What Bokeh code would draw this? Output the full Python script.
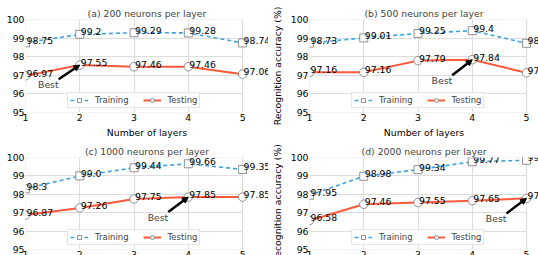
from bokeh.plotting import figure
from bokeh.layouts import column, row
from bokeh.models import (Label, Arrow, NormalHead, Legend, LegendItem, Range1d,
                          BoxAnnotation)
from bokeh.embed import file_html
from bokeh.resources import INLINE

layers = [1, 2, 3, 4, 5]
titles = ["(a) 200 neurons per layer", "(b) 500 neurons per layer",
          "(c) 1000 neurons per layer", "(d) 2000 neurons per layer"]
train_200 = [98.75, 99.2, 99.29, 99.28, 98.74]
test_200 = [96.97, 97.55, 97.46, 97.46, 97.06]
train_500 = [98.73, 99.01, 99.25, 99.4, 98.72]
test_500 = [97.16, 97.16, 97.79, 97.84, 97.13]
train_1000 = [98.3, 99.0, 99.44, 99.66, 99.35]
test_1000 = [96.87, 97.26, 97.75, 97.85, 97.85]
train_2000 = [97.95, 98.98, 99.34, 99.77, 99.85]
test_2000 = [96.58, 97.46, 97.55, 97.65, 97.78]
best_layer = [2, 4, 4, 5]
best_text_x = [1.42, 3.44, 3.44, 4.44]
best_text_y = [96.51, 96.72, 96.76, 96.68]
y_ticks = [95, 96, 97, 98, 99, 100]
y_min, y_max = 95, 100

FONT = "DejaVu Sans"
FS = "9.3px"
LFS = "8.5px"
BLUE = "#3ba3e0"
RED = "#ff5a3c"
FRAME_W = 218       # visible plotting box width (px)
BORDER_L = 40


def make_panel(title, train, test, best, tx, ty, left_col, top_row):
    width = 284 if left_col else 270
    ext_w = width - BORDER_L
    x0, x1 = layers[0], layers[-1]
    # frame is extended to the canvas edge so that value labels may overflow the box
    x_end = x0 + (x1 - x0) * ext_w / FRAME_W
    p = figure(width=width, height=140 if top_row else 137,
               x_range=Range1d(x0, x_end), y_range=Range1d(y_min, y_max),
               output_backend="svg", toolbar_location=None, title=title,
               min_border_left=BORDER_L, min_border_right=0,
               min_border_top=19 if top_row else 17, min_border_bottom=28)
    p.title.text_font = FONT
    p.title.text_font_size = FS
    p.title.text_font_style = "normal"
    p.title.align = "center"
    p.title.offset = -(ext_w - FRAME_W) / 2
    p.title.standoff = 1
    p.outline_line_color = None
    p.grid.grid_line_color = "#dddddd"
    for ax in (p.xaxis, p.yaxis):
        ax.axis_line_color = None
        ax.major_tick_out = 0
        ax.major_tick_in = 0
        ax.minor_tick_out = 0
        ax.minor_tick_in = 0
        ax.major_label_text_font = FONT
        ax.major_label_text_font_size = FS
        ax.major_label_text_color = "black"
        ax.axis_label_text_font = FONT
        ax.axis_label_text_font_size = FS
        ax.axis_label_text_font_style = "normal"
        ax.axis_label_text_color = "black"
        ax.major_label_standoff = 1
    p.xaxis.axis_label_standoff = 3
    p.yaxis.axis_label_standoff = 5
    p.xaxis.ticker = layers
    p.xaxis.bounds = (x0, x1)
    p.yaxis.ticker = y_ticks
    p.xgrid.ticker = layers
    p.ygrid.ticker = y_ticks
    p.xaxis.axis_label = "Number of layers"
    p.yaxis.axis_label = "Recognition accuracy (%)"

    # blank out the grid beyond the last layer, then draw the box border
    p.add_layout(BoxAnnotation(left=x1, fill_color="white", fill_alpha=1,
                               line_color=None, level="underlay"))
    p.add_layout(BoxAnnotation(left=x0, right=x1, bottom=y_min, top=y_max,
                               fill_color=None, line_color="#bdbdbd",
                               line_width=1.2, level="underlay"))

    tr_line = p.line(layers, train, line_color=BLUE, line_width=1.6, line_dash="4 3")
    tr_pts = p.scatter(layers, train, marker="square", size=8, fill_color="white",
                       line_color="#777777", line_width=0.8)
    te_line = p.line(layers, test, line_color=RED, line_width=2)
    te_pts = p.scatter(layers, test, marker="circle", size=8.5, fill_color="white",
                       line_color="#777777", line_width=0.8)

    for vals in (train, test):
        for xv, yv in zip(layers, vals):
            p.add_layout(Label(x=xv, y=yv, text=str(yv), x_offset=1, y_offset=2.5,
                               text_baseline="middle", text_font=FONT,
                               text_font_size=FS, text_color="black"))

    p.add_layout(Arrow(end=NormalHead(size=6, fill_color="black", line_color="black"),
                       x_start=tx + 0.19, y_start=ty + 0.28,
                       x_end=best, y_end=test[best - 1],
                       line_width=2.5, line_color="black"))
    p.add_layout(Label(x=tx, y=ty, text="Best", text_align="center",
                       text_baseline="middle", text_font=FONT, text_font_size=FS))

    legend = Legend(items=[LegendItem(label="Training", renderers=[tr_line, tr_pts]),
                           LegendItem(label="Testing", renderers=[te_line, te_pts])],
                    orientation="horizontal", location=(42, 4))
    legend.label_text_font = FONT
    legend.label_text_font_size = LFS
    legend.border_line_color = "#cccccc"
    legend.background_fill_alpha = 0.85
    legend.padding = 2
    legend.spacing = 14
    legend.margin = 0
    legend.glyph_width = 18
    legend.glyph_height = 10
    legend.label_height = 10
    legend.label_standoff = 7
    p.add_layout(legend)
    return p


series = [(train_200, test_200), (train_500, test_500),
          (train_1000, test_1000), (train_2000, test_2000)]
panels = []
for i, (tr, te) in enumerate(series):
    panels.append(make_panel(titles[i], tr, te, best_layer[i], best_text_x[i],
                             best_text_y[i], left_col=(i % 2 == 0), top_row=(i < 2)))

root = column(row(panels[0], panels[1]), row(panels[2], panels[3]),
              margin=(0, 0, 0, -16), height=255, width=554,
              styles={"overflow": "hidden"})

open("out.html", "w").write(file_html(root, INLINE))
